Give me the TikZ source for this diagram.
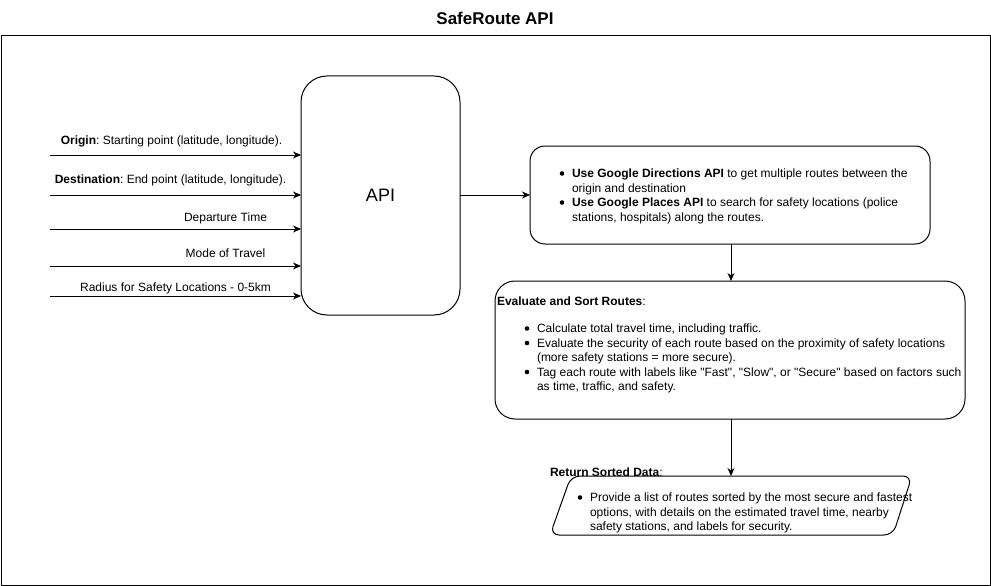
\documentclass[tikz,border=0pt]{standalone}
\usepackage{fontspec}
\setmainfont{Liberation Sans}
\usetikzlibrary{arrows.meta}
\begin{document}
\frenchspacing
\begin{tikzpicture}[x=1pt,y=-1pt,
  every node/.style={inner sep=0pt, outer sep=0pt},
  box/.style={draw, line width=1pt},
  conn/.style={draw, line width=1pt, -{Stealth[length=8pt,width=7pt,inset=2.5pt]}},
  txt/.style={font=\fontsize{12}{14.5}\selectfont, anchor=base west},
  ctxt/.style={font=\fontsize{12}{14.5}\selectfont, anchor=base},
  bul/.style={circle, fill, minimum size=4.6pt, inner sep=0pt},
]
\useasboundingbox (0,0) rectangle (991,586);
% title
\node[font=\fontsize{17}{20}\selectfont\bfseries, anchor=base] (title) at (495,25) {SafeRoute API};
% outer frame
\draw[box] (1,36) rectangle (990,585);

% API box
\draw[box, rounded corners=26pt] (301,76) rectangle (460,315);
\node[font=\fontsize{18}{21}\selectfont] (api) at (380.5,195.5) {API};
\coordinate (apiE) at (460,195);

% inputs
\coordinate (in1) at (50,155);
\coordinate (in2) at (50,195);
\coordinate (in3) at (50,229);
\coordinate (in4) at (50,266);
\coordinate (in5) at (50,296);
\coordinate (e1) at (301,155);
\coordinate (e2) at (301,195);
\coordinate (e3) at (301,229);
\coordinate (e4) at (301,266);
\coordinate (e5) at (301,296);
\draw[conn] (in1) -- (e1);
\draw[conn] (in2) -- (e2);
\draw[conn] (in3) -- (e3);
\draw[conn] (in4) -- (e4);
\draw[conn] (in5) -- (e5);
\node[ctxt] (l1) at (171.5,144.5) {\textbf{Origin}: Starting point (latitude, longitude).};
\node[ctxt] (l2) at (170.5,183.5) {\textbf{Destination}: End point (latitude, longitude).};
\node[ctxt] (l3) at (225.5,221.5) {Departure Time};
\node[ctxt] (l4) at (225.5,257.5) {Mode of Travel};
\node[ctxt] (l5) at (175.5,291.5) {Radius for Safety Locations - 0-5km};

% box 1
\draw[box, rounded corners=15pt] (530,146) rectangle (930,244);
\coordinate (b1W) at (530,195);
\coordinate (b1S) at (731,244);
\draw[conn] (apiE) -- (b1W);
\node[bul] (b1a) at (562,173.5) {};
\node[txt] (t1a) at (572,177.5) {\textbf{Use Google Directions API} to get multiple routes between the};
\node[txt] (t1b) at (572,192) {origin and destination};
\node[bul] (b1b) at (562,202.5) {};
\node[txt] (t1c) at (572,206.5) {\textbf{Use Google Places API} to search for safety locations (police};
\node[txt] (t1d) at (572,221) {stations, hospitals) along the routes.};

% box 2
\draw[box, rounded corners=20pt] (495,281) rectangle (965,419);
\coordinate (b2N) at (731,281);
\coordinate (b2S) at (731,419);
\draw[conn] (b1S) -- (b2N);
\node[txt] (t2h) at (497,305.5) {\textbf{Evaluate and Sort Routes}:};
\node[bul] (b2a) at (527,328.5) {};
\node[txt] (t2a) at (537,332.5) {Calculate total travel time, including traffic.};
\node[bul] (b2b) at (527,343) {};
\node[txt] (t2b) at (537,347) {Evaluate the security of each route based on the proximity of safety locations};
\node[txt] (t2c) at (537,361.5) {(more safety stations = more secure).};
\node[bul] (b2c) at (527,372) {};
\node[txt] (t2d) at (537,376) {Tag each route with labels like \textquotedbl Fast\textquotedbl, \textquotedbl Slow\textquotedbl, or \textquotedbl Secure\textquotedbl\ based on factors such};
\node[txt] (t2e) at (537,390.5) {as time, traffic, and safety.};

% parallelogram
\coordinate (pTL) at (571,476);
\coordinate (pTR) at (912,476);
\coordinate (pBR) at (893,535);
\coordinate (pBL) at (550,535);
\coordinate (pN) at (731,476);
\draw[box, rounded corners=9pt] (pTL) -- (pTR) -- (pBR) -- (pBL) -- cycle;
\draw[conn] (b2S) -- (pN);
\node[txt] (t3h) at (550,476.5) {\textbf{Return Sorted Data}:};
\node[bul] (b3a) at (580,497.5) {};
\node[txt] (t3a) at (590,501.5) {Provide a list of routes sorted by the most secure and fastest};
\node[txt] (t3b) at (590,516) {options, with details on the estimated travel time, nearby};
\node[txt] (t3c) at (590,530.5) {safety stations, and labels for security.};
\end{tikzpicture}
\end{document}
